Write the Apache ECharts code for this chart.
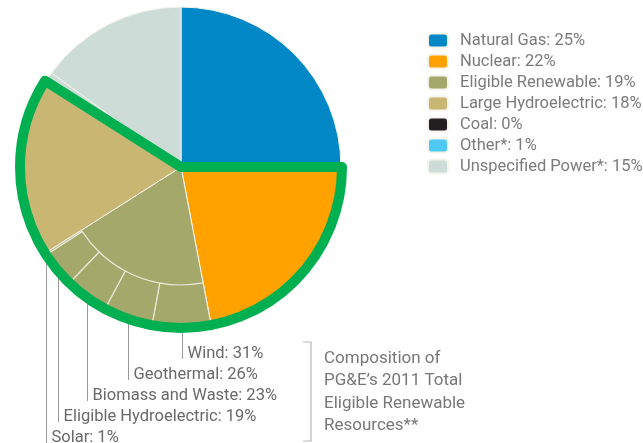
<!DOCTYPE html>
<html>
<head>
<meta charset="utf-8">
<script src="https://cdn.jsdelivr.net/npm/echarts@6/dist/echarts.min.js"></script>
<style>
html,body{margin:0;padding:0;background:#fff;}
#main{width:643px;height:443px;}
</style>
</head>
<body>
<div id="main"></div>
<script>
// PG&E 2011 power mix
var sources = ['Natural Gas', 'Nuclear', 'Eligible Renewable', 'Large Hydroelectric', 'Coal', 'Other*', 'Unspecified Power*'];
var shares = [25, 22, 19, 18, 0, 1, 15];
var colors = ['#0288c6', '#ffa200', '#a5a86b', '#c9b673', '#231f20', '#4dc9f3', '#cddcd6'];
// eligible renewable breakdown
var renewTypes = ['Wind', 'Geothermal', 'Biomass and Waste', 'Eligible Hydroelectric', 'Solar'];
var renewShares = [31, 26, 23, 19, 1];
// slices inside the green outline
var outlined = ['Nuclear', 'Eligible Renewable', 'Large Hydroelectric'];
var noteLines = ['Composition of', 'PG&E’s 2011 Total', 'Eligible Renewable', 'Resources**'];

var center = [181, 167];
var R = 160;
var font = 'Roboto, "Open Sans", sans-serif';

var chart = echarts.init(document.getElementById('main'), null, {renderer: 'canvas'});

//主饼图数据 (原图中 Other 的细条看不出来, 用相邻颜色画)
var mainData = [];
var legendData = [];
for (var i = 0; i < sources.length; i++) {
    var c = colors[i];
    if (sources[i] == 'Other*') c = colors[sources.indexOf('Unspecified Power*')];
    mainData.push({name: sources[i], value: shares[i], itemStyle: {color: c}});
    legendData.push({name: sources[i], itemStyle: {color: colors[i]}});
}

//绿色轮廓: 前/中/后三段
var before = 0, inside = 0, after = 0;
for (var i = 0; i < sources.length; i++) {
    if (outlined.indexOf(sources[i]) >= 0) {
        inside += shares[i];
    } else if (inside == 0) {
        before += shares[i];
    } else {
        after += shares[i];
    }
}
var hidden = {color: 'rgba(0,0,0,0)', borderWidth: 0};
var outlineData = [
    {name: '_a', value: before, itemStyle: hidden},
    {name: '_b', value: inside, itemStyle: {color: 'rgba(0,0,0,0)', borderColor: '#00b050', borderWidth: 10, borderJoin: 'round'}},
    {name: '_c', value: after, itemStyle: hidden}
];

//可再生能源外环
var renewIdx = sources.indexOf('Eligible Renewable');
var renewShare = shares[renewIdx];
var offset = 0;
for (var i = 0; i < renewIdx; i++) offset += shares[i];
var ringData = [];
var subTotal = 0;
for (var i = 0; i < renewTypes.length; i++) {
    ringData.push({name: renewTypes[i], value: renewShares[i]});
    subTotal += renewShares[i];
}
ringData.push({
    name: '_rest',
    value: subTotal * (100 - renewShare) / renewShare,
    itemStyle: {color: 'rgba(0,0,0,0)', borderWidth: 0},
    label: {show: false},
    labelLine: {show: false}
});

var labelTop = 354;
var labelGap = 21;

option = {
    backgroundColor: '#fff',
    animation: false,
    legend: {
        orient: 'vertical',
        left: 422,
        top: 27,
        itemWidth: 20,
        itemHeight: 14,
        itemGap: 4,
        icon: 'roundRect',
        selectedMode: false,
        data: legendData,
        textStyle: {color: '#7b7b7b', fontSize: 16.5, fontFamily: font, padding: [0, 0, 0, 7]},
        formatter: function (name) {
            return name + ': ' + shares[sources.indexOf(name)] + '%';
        }
    },
    series: [
        {
            type: 'pie',
            center: center,
            radius: [0, R],
            startAngle: 90,
            silent: true,
            z: 2,
            label: {show: false},
            labelLine: {show: false},
            itemStyle: {borderColor: '#f4f4ec', borderWidth: 1},
            data: mainData
        },
        {
            type: 'pie',
            center: center,
            radius: [118, R],
            startAngle: 90 - offset * 3.6,
            silent: true,
            z: 3,
            avoidLabelOverlap: false,
            itemStyle: {color: colors[renewIdx], borderColor: '#e9e8d6', borderWidth: 1.2},
            label: {
                show: true,
                position: 'outside',
                color: '#696969',
                fontSize: 16.5,
                fontFamily: font,
                formatter: '{b}: {c}%'
            },
            labelLine: {show: true, length: 10, length2: 10, lineStyle: {color: '#9a9a9a', width: 1}},
            labelLayout: function (p) {
                var i = p.dataIndex;
                if (i >= renewTypes.length || !p.labelLinePoints) return {};
                var pt = p.labelLinePoints[0];
                var lx = Math.round(pt[0]) + 0.5;
                var y = labelTop + i * labelGap;
                return {
                    x: lx + 5,
                    y: y,
                    align: 'left',
                    verticalAlign: 'middle',
                    labelLinePoints: [[lx, pt[1]], [lx, y + 5], [lx, y + 5]]
                };
            },
            data: ringData
        },
        {
            type: 'pie',
            center: center,
            radius: [0, R + 1],
            startAngle: 90,
            silent: true,
            z: 4,
            label: {show: false},
            labelLine: {show: false},
            data: outlineData
        }
    ],
    graphic: [
        {
            type: 'polyline',
            shape: {points: [[303, 342], [311, 342], [311, 441], [303, 441]]},
            style: {stroke: '#b8b8b8', lineWidth: 1.2, fill: null}
        },
        {
            type: 'text',
            left: 324,
            top: 347,
            style: {
                text: noteLines.join('\n'),
                fill: '#777',
                fontSize: 17,
                lineHeight: 22.5,
                fontFamily: font
            }
        }
    ]
};
chart.setOption(option);
</script>
</body>
</html>
